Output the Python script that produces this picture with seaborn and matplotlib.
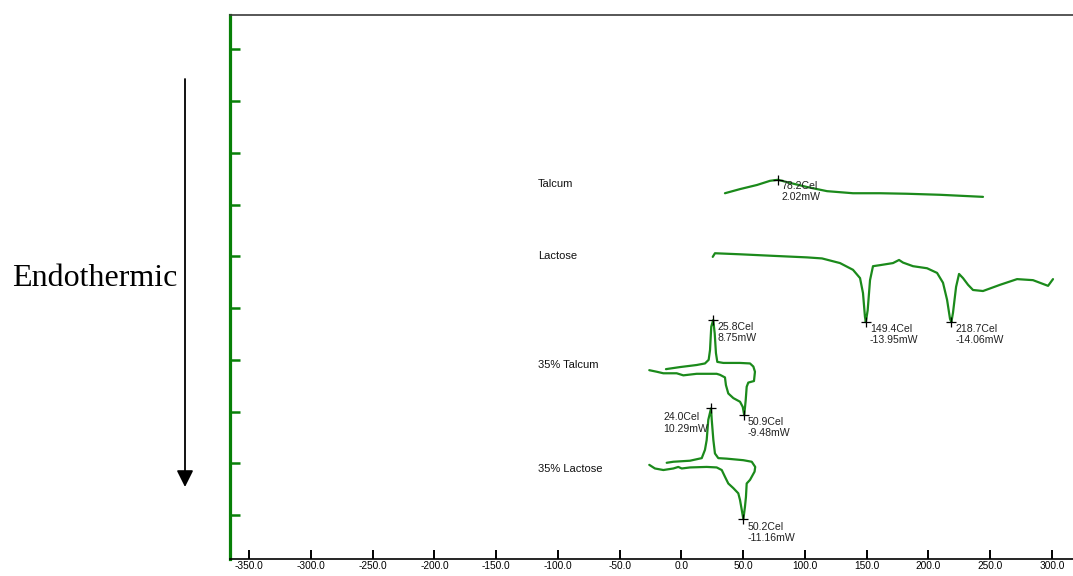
import numpy as np
import pandas as pd
import matplotlib
matplotlib.use("Agg")
import matplotlib.pyplot as plt
import seaborn as sns

# ---- DSC thermograms (temperature in Cel, stacked heat-flow position) ----
talcum_T = [35.3, 47.5, 61.3, 71.8, 78.2, 88.0, 101.8, 118.0, 139.0, 160.9,
            182.8, 209.5, 244.3]
talcum_hf = [7.06, 7.14, 7.22, 7.30, 7.32, 7.26, 7.18, 7.10, 7.06, 7.06,
             7.05, 7.03, 6.99]

lactose_T = [25.4, 27.2, 47.5, 74.2, 101.8, 113.9, 128.5, 139.0, 144.7, 147.1,
             148.7, 149.4, 150.9, 152.8, 155.2, 160.9, 171.4, 176.3, 179.5,
             187.6, 199.0, 207.1, 211.9, 215.2, 217.6, 218.7, 220.0, 222.5,
             224.9, 228.1, 232.2, 236.2, 244.3, 258.1, 271.9, 284.8, 297.0,
             301.0]
lactose_hf = [5.83, 5.90, 5.88, 5.85, 5.82, 5.80, 5.71, 5.58, 5.42, 5.13,
              4.67, 4.57, 4.80, 5.38, 5.65, 5.67, 5.71, 5.77, 5.72,
              5.65, 5.61, 5.52, 5.33, 5.00, 4.63, 4.57, 4.75, 5.25,
              5.50, 5.42, 5.29, 5.19, 5.17, 5.29, 5.40, 5.38, 5.27,
              5.40]

talc35_T = [-26.0, -20.0, -14.6, -3.8, 1.6, 12.4, 28.6, 31.3, 35.3, 36.1,
            38.0, 42.1, 47.5, 49.7, 50.9, 52.1, 52.9, 54.2, 58.8, 59.6,
            58.3, 55.6, 47.5, 34.0, 29.1, 28.0, 27.0, 25.8, 24.2, 23.2,
            22.1, 19.1, 12.4, -1.1, -12.5]
talc35_hf = [3.64, 3.61, 3.58, 3.58, 3.54, 3.57, 3.57, 3.55, 3.50, 3.35,
             3.19, 3.10, 3.03, 2.93, 2.77, 3.06, 3.32, 3.40, 3.43, 3.61,
             3.71, 3.77, 3.78, 3.78, 3.80, 3.97, 4.35, 4.61, 4.48, 4.03,
             3.84, 3.77, 3.74, 3.70, 3.66]

lact35_T = [-26.0, -21.4, -14.6, -6.5, -2.5, 0.3, 7.0, 20.5, 28.6, 32.7,
            35.3, 38.0, 42.1, 46.1, 47.5, 48.9, 50.2, 51.5, 52.3, 52.9,
            55.6, 59.3, 59.8, 57.0, 50.2, 36.7, 29.9, 27.2, 25.9, 24.6,
            24.0, 21.8, 20.5, 19.1, 16.5, 7.0, -6.5, -11.9]
lact35_hf = [1.81, 1.74, 1.71, 1.74, 1.77, 1.74, 1.76, 1.77, 1.76, 1.71,
             1.58, 1.45, 1.36, 1.26, 1.13, 0.94, 0.76, 1.00, 1.19, 1.45,
             1.52, 1.68, 1.77, 1.87, 1.90, 1.93, 1.94, 2.03, 2.29, 2.68,
             2.90, 2.68, 2.29, 2.10, 1.94, 1.89, 1.87, 1.85]

sample_names = ["Talcum", "Lactose", "35% Talcum", "35% Lactose"]
name_y = [7.24, 5.85, 3.74, 1.73]

# Peak / trough readouts: (sample index, temperature, heat flow in mW)
peak_sample = [0, 1, 1, 2, 2, 3, 3]
peak_T = [78.2, 149.4, 218.7, 25.8, 50.9, 24.0, 50.2]
peak_mW = [2.02, -13.95, -14.06, 8.75, -9.48, 10.29, -11.16]

x_ticks = [-350, -300, -250, -200, -150, -100, -50, 0, 50, 100, 150, 200, 250, 300]

# ---- styling ----
sns.set_style("white")
plt.rcParams["font.family"] = ["Liberation Sans", "DejaVu Sans"]

curve_color = "#1b8a1b"
axis_green = "#078007"

fig = plt.figure(figsize=(10.73, 5.76), dpi=100)
ax = fig.add_axes([0.21435, 0.03038, 0.78565, 0.94358])

curves = [(talcum_T, talcum_hf), (lactose_T, lactose_hf),
          (talc35_T, talc35_hf), (lact35_T, lact35_hf)]
for (T, hf), name in zip(curves, sample_names):
    df = pd.DataFrame({"T": T, "hf": hf})
    sns.lineplot(data=df, x="T", y="hf", sort=False, estimator=None,
                 color=curve_color, lw=1.6, ax=ax)

# Markers at the evaluated peaks, placed on the curve points
pk_x, pk_y = [], []
for s, t in zip(peak_sample, peak_T):
    T, hf = curves[s]
    i = int(np.argmin(np.abs(np.asarray(T) - t)))
    pk_x.append(T[i])
    pk_y.append(hf[i])
sns.scatterplot(x=pk_x, y=pk_y, marker="+", s=45, color="black",
                linewidth=0.9, ax=ax, zorder=5)

# Readout text offsets (pixels) for each peak
offsets = [(4, -1), (4, -2), (4, -2), (4, -2), (3, -2), (-48, -4), (4, -3)]
for x, y, t, mw, off in zip(pk_x, pk_y, peak_T, peak_mW, offsets):
    ax.annotate(f"{t:.1f}Cel\n{mw:.2f}mW", xy=(x, y), xytext=off,
                textcoords="offset pixels", ha="left", va="top",
                fontsize=7.6, color="#222222", linespacing=1.15)

for name, y in zip(sample_names, name_y):
    ax.text(-116, y, name, ha="left", va="center", fontsize=8,
            color="#111111")

# ---- axes ----
ax.set_xlim(-365.6, 317.2)
ax.set_ylim(0, 10.505)
ax.set_xticks(x_ticks)
ax.set_xticklabels([f"{v:.1f}" for v in x_ticks])
ax.set_yticks([0.841 + k for k in range(10)])
ax.set_xlabel("")
ax.set_ylabel("")

ax.tick_params(axis="x", direction="in", length=6.3, width=1.4,
               colors="black", labelsize=7.3, pad=2, bottom=True)
ax.tick_params(axis="y", direction="in", length=7, width=1.8,
               colors=axis_green, labelleft=False, left=True)

ax.spines["left"].set_color(axis_green)
ax.spines["left"].set_linewidth(2.3)
ax.spines["bottom"].set_color("black")
ax.spines["bottom"].set_linewidth(1.2)
ax.spines["top"].set_color("#3a3a3a")
ax.spines["top"].set_linewidth(1.2)
ax.spines["right"].set_visible(False)

# Endothermic direction indicator
fig.text(12 / 1073, 1 - 278 / 576, "Endothermic", ha="left", va="center",
         fontsize=23, family=["Liberation Serif", "DejaVu Serif"],
         color="black")
fig.patches.append(matplotlib.patches.FancyArrowPatch(
    (185 / 1073, 1 - 79 / 576), (185 / 1073, 1 - 487 / 576),
    transform=fig.transFigure, arrowstyle="-|>", mutation_scale=25,
    lw=1.3, color="black", shrinkA=0, shrinkB=0))

fig.savefig("out.png", dpi=100)
